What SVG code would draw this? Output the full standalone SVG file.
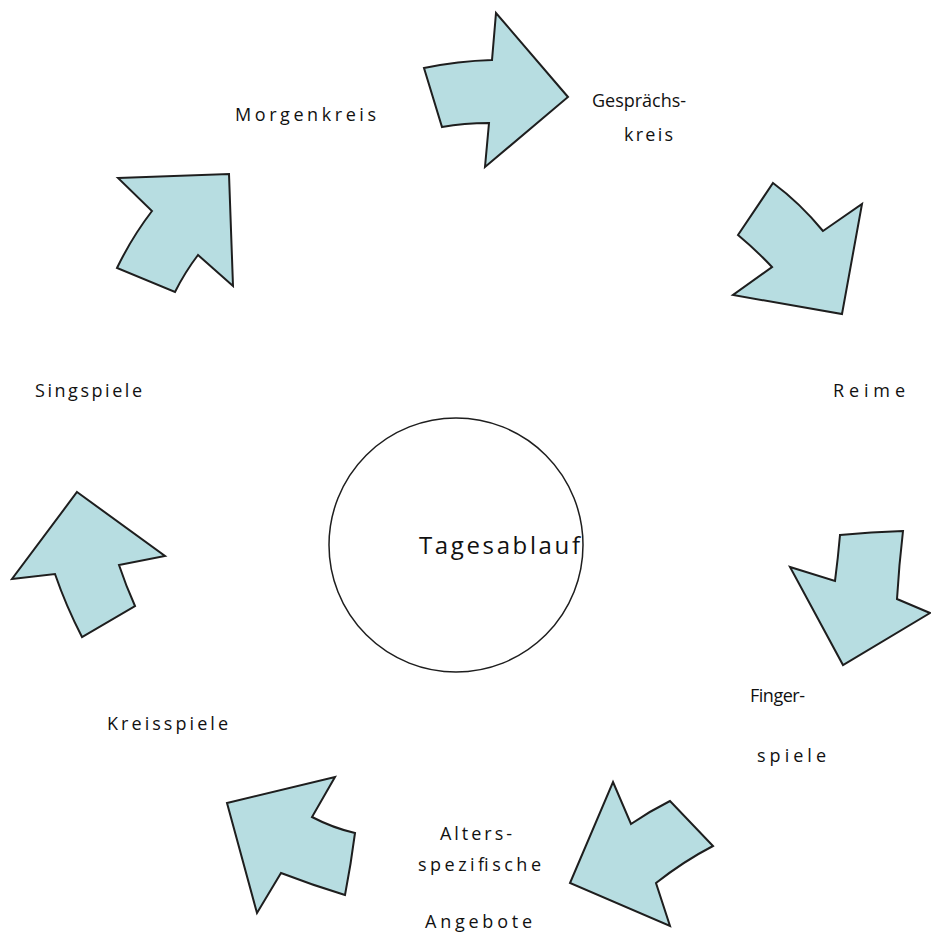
<svg xmlns="http://www.w3.org/2000/svg" width="931" height="935" viewBox="0 0 931 935">
  <style>
    .arrow { fill: #b7dde1; stroke: #1e1e1e; stroke-width: 2; stroke-linejoin: miter; }
    .label { font-family: "Open Sans", "Noto Sans", sans-serif; font-size: 18px; fill: #111; }
    .hub { fill: #ffffff; stroke: #1e1e1e; stroke-width: 1.5; }
    .hub-text { font-family: "Open Sans", "Noto Sans", sans-serif; font-size: 24px; fill: #111; }
  </style>
  <rect width="931" height="935" fill="#ffffff"/>

  <!-- centre hub -->
  <g id="hub">
    <circle class="hub" cx="456" cy="545" r="127"/>
    <text class="hub-text" x="419" y="554" textLength="161" lengthAdjust="spacing">Tagesablauf</text>
  </g>

  <!-- step labels -->
  <g id="morgenkreis"><text class="label" x="235" y="121" textLength="141" lengthAdjust="spacing">Morgenkreis</text></g>
  <g id="gespraechskreis">
    <text class="label" x="592" y="107" textLength="94" lengthAdjust="spacing">Gesprächs-</text>
    <text class="label" x="624" y="141" textLength="49" lengthAdjust="spacing">kreis</text>
  </g>
  <g id="reime"><text class="label" x="833" y="397" textLength="72" lengthAdjust="spacing">Reime</text></g>
  <g id="fingerspiele">
    <text class="label" x="750" y="702" textLength="55" lengthAdjust="spacing">Finger-</text>
    <text class="label" x="757" y="762" textLength="69" lengthAdjust="spacing">spiele</text>
  </g>
  <g id="altersspezifische-angebote">
    <text class="label" x="440" y="840" textLength="72" lengthAdjust="spacing">Alters-</text>
    <text class="label" x="418" y="871" textLength="123" lengthAdjust="spacing">spezifische</text>
    <text class="label" x="425" y="928" textLength="107" lengthAdjust="spacing">Angebote</text>
  </g>
  <g id="kreisspiele"><text class="label" x="107" y="730" textLength="121" lengthAdjust="spacing">Kreisspiele</text></g>
  <g id="singspiele"><text class="label" x="35" y="397" textLength="107" lengthAdjust="spacing">Singspiele</text></g>

  <!-- circular arrows between the steps -->
  <g id="connectors">
    <path class="arrow" d="M424,68 Q458,61 492,60 L496,13 L568,97 L485,167 L489,123 Q464,123 442,127 Z"/>
    <path class="arrow" d="M773,183 Q800,203 823,231 L862,204 L842,314 L733,295 L772,267 Q756,250 738,235 Z"/>
    <path class="arrow" d="M840,535 Q871,532 903,531 Q899,565 897,599 L930,613 L843,665 L790,567 L835,581 Q838,558 840,535 Z"/>
    <path class="arrow" d="M613,782 L631,824 Q650,811 670,801 L713,846 Q684,861 656,883 L670,926 L570,883 Z"/>
    <path class="arrow" d="M335,777 L312,817 Q333,828 355,833 Q351,864 345,895 Q312,885 281,873 L257,913 L227,803 Z"/>
    <path class="arrow" d="M77,492 L165,556 L119,565 Q126,586 135,606 L82,637 Q66,606 55,574 L12,579 Z"/>
    <path class="arrow" d="M118,178 L229,174 L233,286 L198,255 Q185,272 175,292 L117,268 Q132,237 152,211 Z"/>
  </g>
</svg>
